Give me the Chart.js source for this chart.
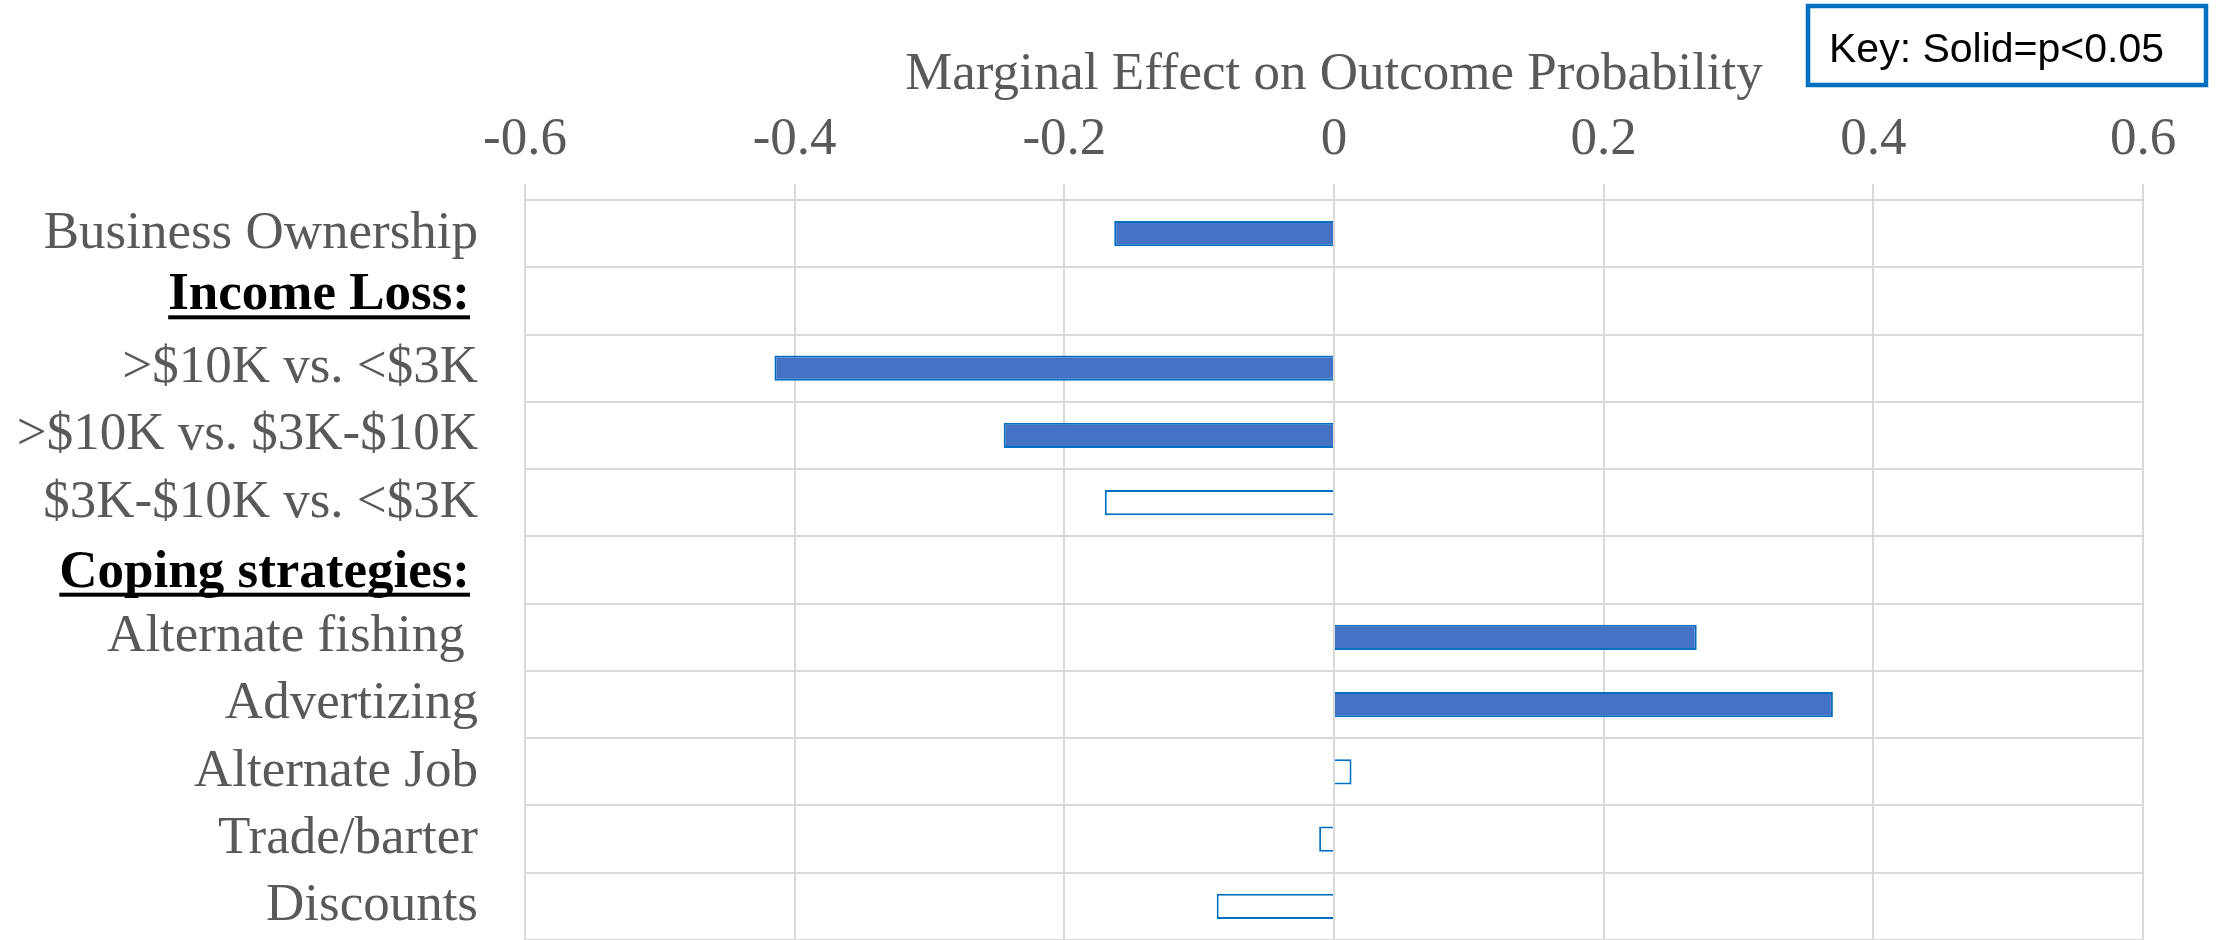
<!DOCTYPE html>
<html>
<head>
<meta charset="utf-8">
<script src="https://cdn.jsdelivr.net/npm/chart.js@4.4.0/dist/chart.umd.min.js"></script>
<style>
  html, body { margin: 0; padding: 0; background: #ffffff; }
  #wrap { width: 2221px; height: 940px; }
</style>
</head>
<body>
<div id="wrap"><canvas id="chart" width="2221" height="940"></canvas></div>
<script>
// Rows of the effect chart, top to bottom
const categories = [
  'Business Ownership',
  'Income Loss:',
  '>$10K vs. <$3K',
  '>$10K vs. $3K-$10K',
  '$3K-$10K vs. <$3K',
  'Coping strategies:',
  'Alternate fishing ',
  'Advertizing',
  'Alternate Job',
  'Trade/barter',
  'Discounts'
];
// Section headings carry no value
const headerRows = [false, true, false, false, false, true, false, false, false, false, false];
// Marginal effects
const effects = [-0.163, null, -0.415, -0.245, -0.170, null, 0.269, 0.370, 0.013, -0.011, -0.087];
// Solid bar when p < 0.05
const significant = [true, false, true, true, false, false, true, true, false, false, false];
// Horizontal axis ticks
const xTickValues = [-0.6, -0.4, -0.2, 0, 0.2, 0.4, 0.6];
const xTickLabels = ['-0.6', '-0.4', '-0.2', '0', '0.2', '0.4', '0.6'];
const axisTitle = 'Marginal Effect on Outcome Probability';
const keyText = 'Key: Solid=p<0.05';

const SERIF = '"Liberation Serif", "Times New Roman", serif';
const GREY_TEXT = '#595959';
const GRID = '#D9D9D9';

// Bold underlined section headings drawn beside the category axis
const sectionHeaders = {
  id: 'sectionHeaders',
  afterDraw(chart, args, opts) {
    const ctx = chart.ctx;
    const yScale = chart.scales.y;
    const xRight = yScale.right - opts.gap;
    ctx.save();
    ctx.font = 'bold ' + opts.size + 'px ' + SERIF;
    ctx.fillStyle = '#000000';
    ctx.textAlign = 'right';
    ctx.textBaseline = 'alphabetic';
    categories.forEach((label, i) => {
      if (!headerRows[i]) return;
      const nudge = opts.nudge[i] || 0;
      const base = yScale.getPixelForValue(i) + opts.baselineOffset + nudge;
      ctx.fillText(label, xRight, base);
      const w = ctx.measureText(label).width;
      ctx.fillRect(xRight - w, base + 6, w, 4);
    });
    ctx.restore();
  }
};

// Boxed key in the top right corner
const keyBox = {
  id: 'keyBox',
  afterDraw(chart) {
    const ctx = chart.ctx;
    const right = chart.width - 15;
    const left = right - 398;
    const top = 6;
    const h = 79;
    ctx.save();
    ctx.strokeStyle = '#0070C0';
    ctx.lineWidth = 4.5;
    ctx.strokeRect(left, top, right - left, h);
    ctx.fillStyle = '#000000';
    ctx.font = '41px "Liberation Sans", Arial, sans-serif';
    ctx.textAlign = 'left';
    ctx.textBaseline = 'alphabetic';
    ctx.fillText(keyText, left + 21, top + 56);
    ctx.restore();
  }
};

new Chart(document.getElementById('chart'), {
  type: 'bar',
  data: {
    labels: categories,
    datasets: [{
      data: effects,
      backgroundColor: (c) => significant[c.dataIndex] ? '#4472C4' : '#FFFFFF',
      borderColor: '#0070C0',
      borderWidth: 2,
      barPercentage: 0.375,
      categoryPercentage: 1
    }]
  },
  options: {
    indexAxis: 'y',
    responsive: false,
    animation: false,
    devicePixelRatio: 1,
    layout: { padding: { top: 0, right: 78, bottom: 0, left: 0 } },
    plugins: {
      legend: { display: false },
      tooltip: { enabled: false },
      sectionHeaders: { gap: 55, size: 53, baselineOffset: 17.9, nudge: { 1: -9.5, 5: -1.2 } }
    },
    scales: {
      x: {
        type: 'linear',
        position: 'top',
        min: -0.6,
        max: 0.6,
        afterBuildTicks: (scale) => { scale.ticks = xTickValues.map(v => ({ value: v })); },
        afterFit: (scale) => { scale.height = 200; },
        ticks: {
          callback: (v, i) => xTickLabels[i],
          font: { family: SERIF, size: 53 },
          color: GREY_TEXT,
          padding: 12,
          maxRotation: 0,
          autoSkip: false
        },
        title: {
          display: true,
          text: axisTitle,
          font: { family: SERIF, size: 53 },
          color: GREY_TEXT,
          padding: { top: 43, bottom: 0 }
        },
        grid: { color: GRID, lineWidth: 2, drawTicks: true, tickLength: 16 },
        border: { display: true, color: GRID, width: 2 }
      },
      y: {
        type: 'category',
        afterFit: (scale) => {
          scale.width = 525;
          // rows fill the plot down to the bottom edge of the canvas
          scale.paddingTop = 0;
          scale.paddingBottom = 0;
        },
        ticks: {
          callback: (v, i) => headerRows[i] ? '' : categories[i],
          font: { family: SERIF, size: 53 },
          color: GREY_TEXT,
          padding: 47,
          autoSkip: false
        },
        grid: { color: GRID, lineWidth: 2, drawTicks: false, offset: true },
        border: { display: true, color: GRID, width: 2 }
      }
    }
  },
  plugins: [sectionHeaders, keyBox]
});
</script>
</body>
</html>
